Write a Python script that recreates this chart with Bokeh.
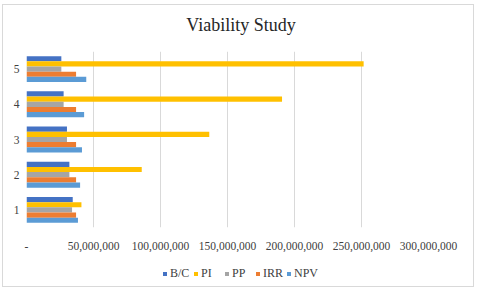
from bokeh.plotting import figure
from bokeh.models import ColumnDataSource, FixedTicker, CustomJSTickFormatter, Legend, LegendItem, Range1d, Div
from bokeh.layouts import column
from bokeh.transform import dodge
from bokeh.embed import file_html
from bokeh.resources import INLINE

title_text = "Viability Study"
categories = [1, 2, 3, 4, 5]
bc = [34.5e6, 32e6, 30.2e6, 27.7e6, 26e6]
pi = [41e6, 86e6, 136.4e6, 190.7e6, 251.6e6]
pp = [34e6, 32e6, 30.2e6, 27.7e6, 26e6]
irr = [37e6, 37e6, 37e6, 37e6, 37e6]
npv = [38.4e6, 40e6, 41.4e6, 43e6, 44.6e6]
series_names = ["B/C", "PI", "PP", "IRR", "NPV"]
x_ticks = [0, 50e6, 100e6, 150e6, 200e6, 250e6, 300e6]

colors = ["#4472C4", "#FFC000", "#A5A5A5", "#ED7D31", "#5B9BD5"]
FONT = "Liberation Serif"
TXT = "#404040"

src = ColumnDataSource(dict(cat=categories, bc=bc, pi=pi, pp=pp, irr=irr, npv=npv))

title_div = Div(text=title_text, width=470, height=36, margin=0,
                styles={"font-family": "'Liberation Serif', serif", "font-size": "18px",
                        "color": "#262626", "text-align": "center", "line-height": "40px",
                        "padding-left": "6px", "box-sizing": "border-box", "width": "470px"})

p = figure(width=470, height=211, output_backend="svg", toolbar_location=None,
           x_range=Range1d(0, 300e6), y_range=Range1d(0.5, 5.5),
           min_border_left=23, min_border_right=45, min_border_top=10, min_border_bottom=21)

h = 0.147
offsets = [2 * h, h, 0, -h, -2 * h]
fields = ["bc", "pi", "pp", "irr", "npv"]
for f, off, c in zip(fields, offsets, colors):
    p.hbar(y=dodge("cat", off), right=f, left=0, height=h, source=src,
           fill_color=c, line_color=None)

p.xaxis.ticker = FixedTicker(ticks=x_ticks)
p.xaxis.formatter = CustomJSTickFormatter(code="return tick == 0 ? '-' : tick.toLocaleString('en-US');")
p.yaxis.ticker = FixedTicker(ticks=categories)
for ax in (p.xaxis, p.yaxis):
    ax.axis_line_color = None
    ax.major_tick_line_color = None
    ax.minor_tick_line_color = None
    ax.major_label_text_font = FONT
    ax.major_label_text_font_size = "11.5px"
    ax.major_label_text_color = TXT
p.yaxis.major_tick_out = 0
p.yaxis.major_tick_in = 0
p.yaxis.major_label_standoff = 7
p.xaxis.major_label_standoff = 8

p.xgrid.grid_line_color = "#D9D9D9"
p.ygrid.grid_line_color = None
p.outline_line_color = None

# legend strip (swatch renderers sit outside the visible ranges)
p2 = figure(width=470, height=34, output_backend="svg", toolbar_location=None,
            x_range=Range1d(0, 1), y_range=Range1d(0, 1),
            min_border_left=0, min_border_right=0, min_border_top=6, min_border_bottom=0)
p2.axis.visible = False
p2.grid.visible = False
p2.outline_line_color = None
dummies = [p2.hbar(y=[-5], left=[5], right=[6], height=0.1, fill_color=c, line_color=None)
           for c in colors]
legend = Legend(items=[LegendItem(label=n, renderers=[r]) for n, r in zip(series_names, dummies)],
                orientation="horizontal", location=(136, 5),
                label_text_font=FONT, label_text_font_size="12px", label_text_color=TXT,
                glyph_width=5, glyph_height=5, spacing=3, label_standoff=3,
                border_line_color=None, background_fill_alpha=0, padding=2, margin=0)
p2.add_layout(legend, "center")

layout = column(title_div, p, p2, spacing=0, margin=(4, 0, 0, 2),
                styles={"border": "1px solid #D9D9D9"})

open("out.html", "w").write(file_html(layout, INLINE))
